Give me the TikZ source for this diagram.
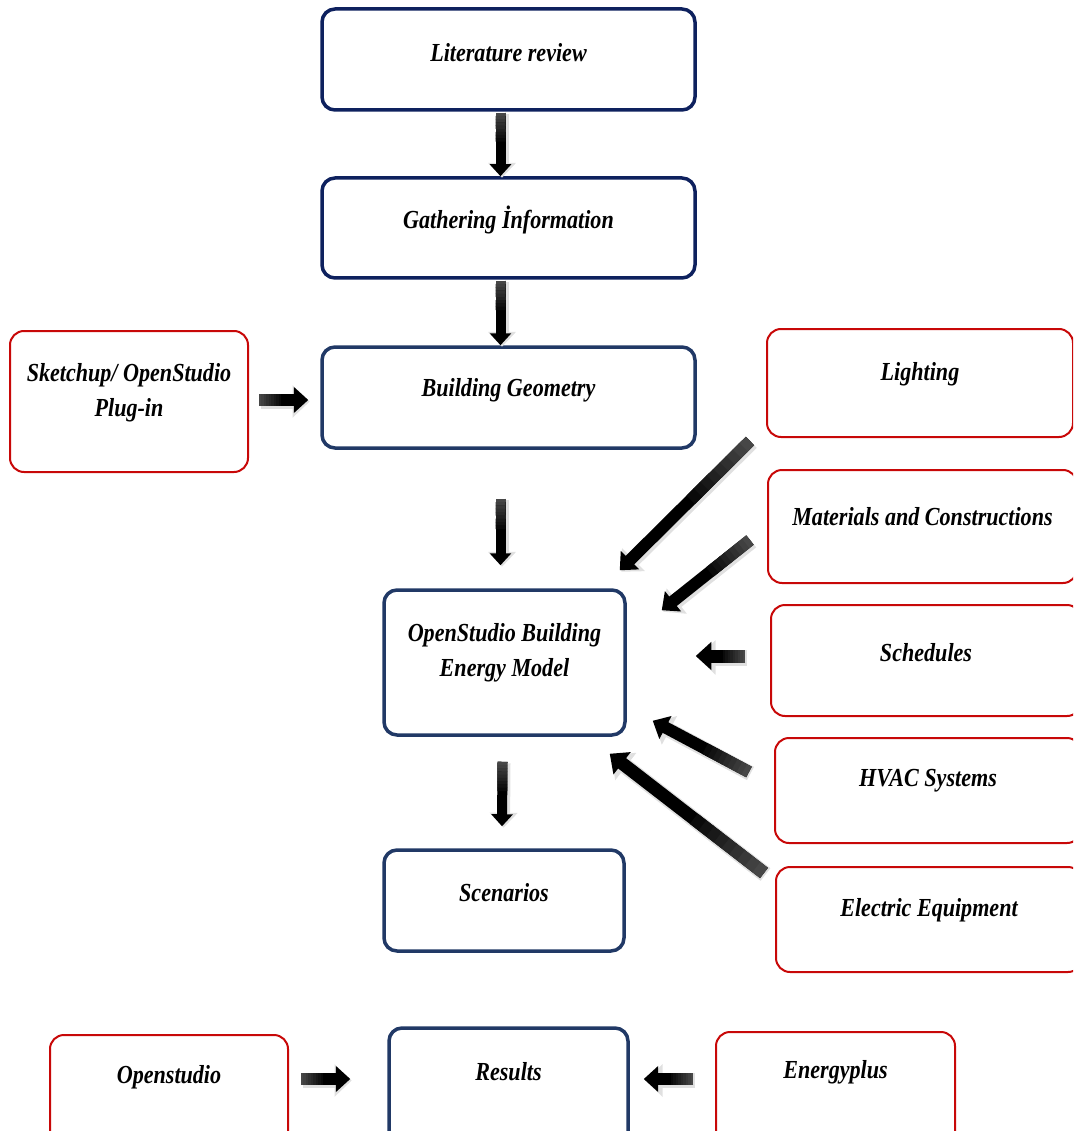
\documentclass[tikz,border=0pt]{standalone}
\usepackage{fontspec}
\newfontfamily\boxfont{Liberation Serif}[FakeStretch=0.85]
\usepackage{tikz}
\usetikzlibrary{calc}
\usetikzlibrary{arrows.meta}
\definecolor{bluA}{RGB}{14,33,94}
\definecolor{bluB}{RGB}{33,57,102}
\definecolor{rossoC}{RGB}{200,8,8}
\tikzstyle{fase} = [rectangle, rounded corners=13pt, line width=3.5pt, draw=bluB, fill=white]
\tikzstyle{dato} = [rectangle, rounded corners=14pt, line width=2pt, draw=rossoC, fill=white]
\tikzstyle{testo} = [font=\boxfont\bfseries\itshape\fontsize{26}{35}\selectfont, align=center, inner sep=0pt]
\newcommand{\bigarrow}[3][12]{%
  \draw[black!12, line width=#1pt+3pt, -{Triangle[width=0pt 2.1, length=0pt 1.15]}] ($(#2)+(1.5,1.5)$) -- ($(#3)+(1.5,1.5)$);
  \draw[black, line width=#1pt, -{Triangle[width=0pt 2.1, length=0pt 1.2]}] (#2) -- (#3);
  \foreach \s in {0,...,8}{
    \pgfmathtruncatemacro\tinta{72+3*\s}
    \pgfmathsetmacro\da{\s/20}
    \pgfmathsetmacro\db{(\s+1)/20+0.005}
    \draw[black!\tinta, line width=#1pt] ($(#2)!\da!(#3)$) -- ($(#2)!\db!(#3)$);
  }}

\begin{document}
\begin{tikzpicture}[x=1pt, y=-1pt]
\useasboundingbox (0,0) rectangle (1073,1131);
\clip (0,0) rectangle (1073,1131);
% colonna centrale
\node at (508.5,59.5) [fase, draw=bluA, minimum width=373pt, minimum height=101pt,
  label={[testo,yshift=7pt]center:Literature review}] (lit) {};
\node at (508.5,228) [fase, draw=bluA, minimum width=373pt, minimum height=100pt,
  label={[testo,yshift=8pt]center:Gathering İnformation}] (gath) {};
\node at (508.5,397.5) [fase, minimum width=373pt, minimum height=101pt,
  label={[testo,yshift=7pt]center:Building Geometry}] (geo) {};
\node at (504.5,662.5) [fase, minimum width=241pt, minimum height=145pt,
  label={[testo,yshift=10pt]center:{OpenStudio Building\\Energy Model}}] (model) {};
\node at (504,900.5) [fase, minimum width=240pt, minimum height=101pt,
  label={[testo,yshift=8pt]center:Scenarios}] (scen) {};
\node at (508.5,1090) [fase, minimum width=239pt, minimum height=124pt,
  label={[testo,yshift=18pt]center:Results}] (res) {};
% ingressi
\node at (129,401.5) [dato, minimum width=238pt, minimum height=141pt,
  label={[testo,yshift=9pt]center:{Sketchup/ OpenStudio\\Plug-in}}] (sketch) {};
\node at (920,383) [dato, minimum width=306pt, minimum height=108pt,
  label={[testo,yshift=9pt]center:Lighting}] (light) {};
\node at (922.5,526.5) [dato, minimum width=309pt, minimum height=113pt,
  label={[testo,yshift=10pt]center:Materials and Constructions}] (mat) {};
\node at (926,660.5) [dato, minimum width=310pt, minimum height=111pt,
  label={[testo,yshift=8pt]center:Schedules}] (sched) {};
\node at (928,790.5) [dato, minimum width=306pt, minimum height=105pt,
  label={[testo,yshift=10pt]center:HVAC Systems}] (hvac) {};
\node at (929,919.5) [dato, minimum width=306pt, minimum height=105pt,
  label={[testo,yshift=9pt]center:Electric Equipment}] (elec) {};
\node at (169,1095) [dato, minimum width=238pt, minimum height=120pt,
  label={[testo,yshift=18pt]center:Openstudio}] (opens) {};
\node at (835.5,1092) [dato, minimum width=239pt, minimum height=120pt,
  label={[testo,yshift=20pt]center:Energyplus}] (eplus) {};
% frecce
\coordinate (a1) at ($(lit.south)+(-8,1)$);
\coordinate (b1) at ($(gath.north)+(-8,0)$);
\coordinate (a2) at ($(gath.south)+(-8,1)$);
\coordinate (b2) at ($(geo.north)+(-8,0)$);
\coordinate (a3) at ($(geo.south)+(-8,49)$);
\coordinate (b3) at ($(model.north)+(-4,-23)$);
\coordinate (a4) at ($(model.south)+(-2,25)$);
\coordinate (b4) at ($(scen.north)+(-2,-22)$);
\coordinate (a5) at ($(sketch.east)+(10,-1.5)$);
\coordinate (b5) at ($(geo.west)+(-12,2.5)$);
\coordinate (a6) at ($(light.south west)+(-16,3)$);
\coordinate (b6) at ($(model.north east)+(-7,-18)$);
\coordinate (a7) at ($(mat.west)+(-17,13.5)$);
\coordinate (b7) at ($(model.north east)+(35,22)$);
\coordinate (a8) at ($(sched.west)+(-25,-4.5)$);
\coordinate (b8) at ($(model.east)+(69,-6.5)$);
\coordinate (a9) at ($(hvac.west)+(-25,-18.5)$);
\coordinate (b9) at ($(model.south east)+(26,-16)$);
\coordinate (a10) at ($(elec.north west)+(-11,7)$);
\coordinate (b10) at ($(model.south east)+(-17,17)$);
\coordinate (a11) at ($(opens.east)+(12,-16)$);
\coordinate (b11) at ($(res.west)+(-37,-11)$);
\coordinate (a12) at ($(eplus.west)+(-22,-13)$);
\coordinate (b12) at ($(res.east)+(14,-11)$);
\bigarrow[10]{a1}{b1}
\bigarrow[10]{a2}{b2}
\bigarrow[10]{a3}{b3}
\bigarrow[10]{a4}{b4}
\bigarrow[12]{a5}{b5}
\bigarrow[12]{a6}{b6}
\bigarrow[12]{a7}{b7}
\bigarrow[13]{a8}{b8}
\bigarrow[12]{a9}{b9}
\bigarrow[13]{a10}{b10}
\bigarrow[12]{a11}{b11}
\bigarrow[12]{a12}{b12}
\end{tikzpicture}
\end{document}
